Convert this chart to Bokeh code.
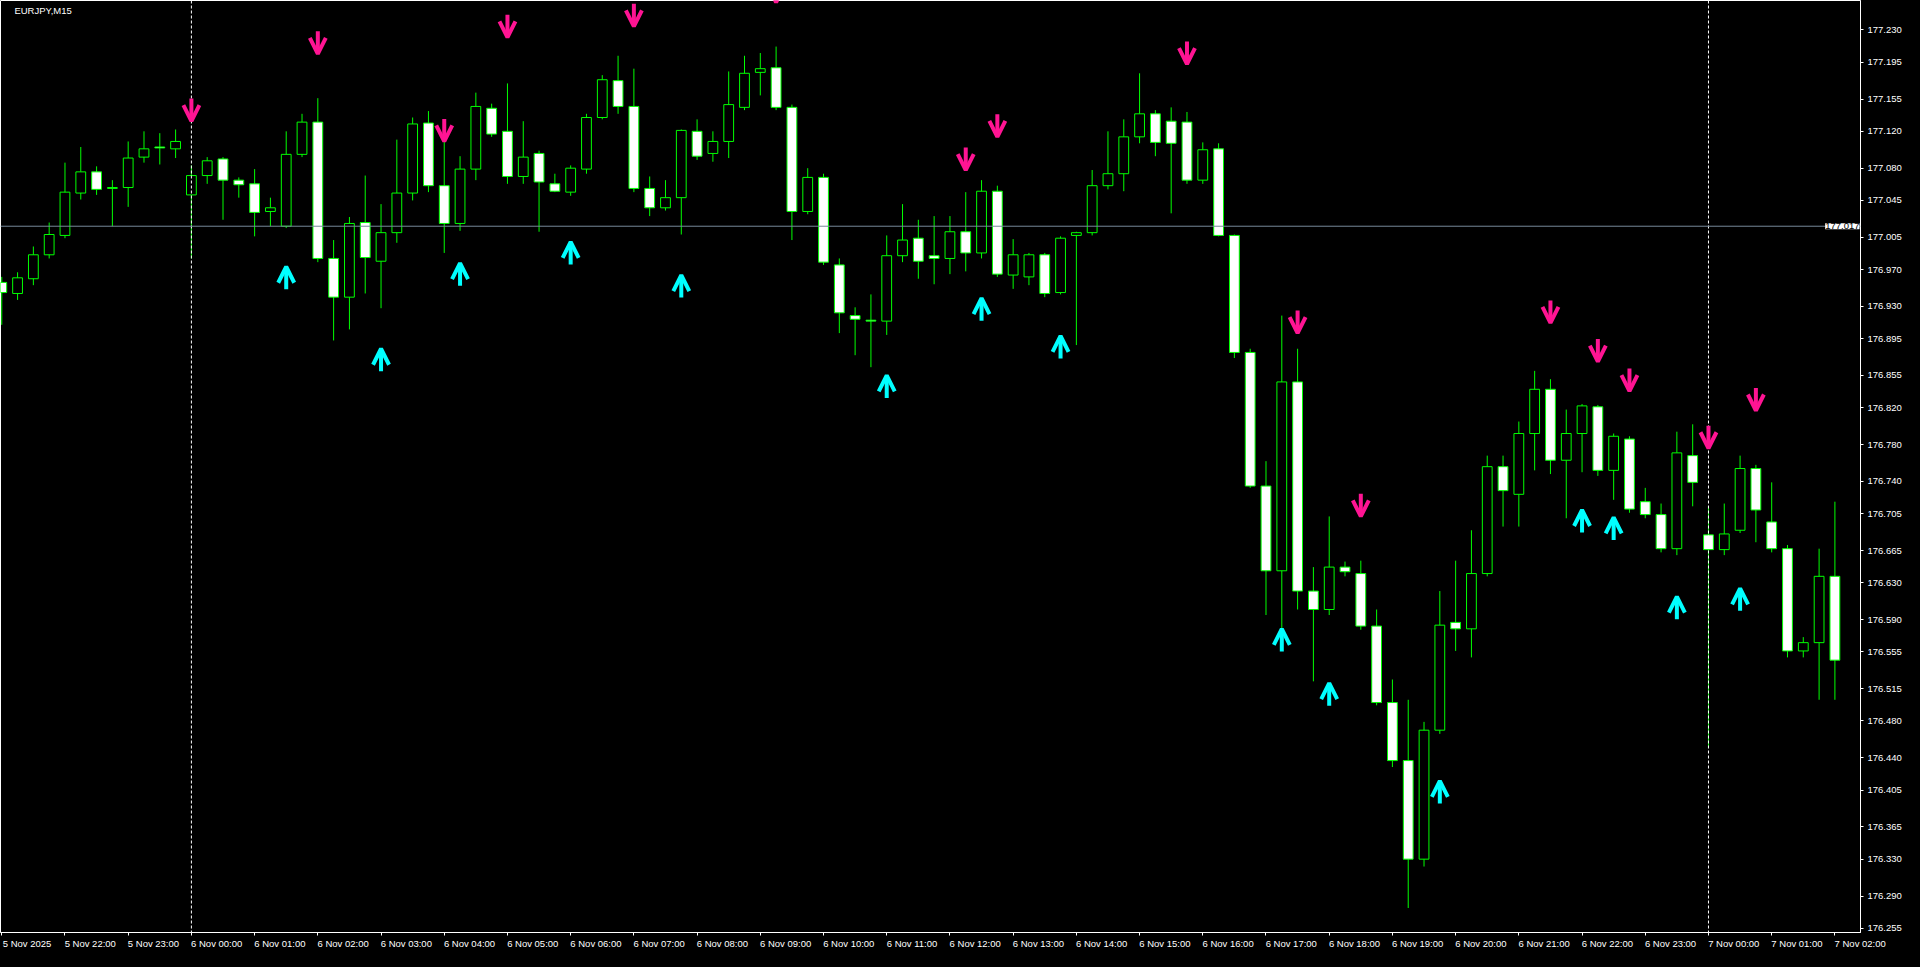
import numpy as np
from bokeh.plotting import figure
from bokeh.models import (ColumnDataSource, Range1d, FixedTicker, Span, Label, LinearAxis,
                          Arrow, OpenHead, PrintfTickFormatter, GlobalInlineStyleSheet)
from bokeh.embed import file_html
from bokeh.resources import INLINE

# ---------------- data (EURJPY M15, 5 Nov 21:00 -> 7 Nov 02:00) ----------------
open_ = [176.956, 176.944, 176.960, 176.986, 177.007, 177.053, 177.076, 177.058, 177.059, 177.092,
         177.103, 177.101, 177.051, 177.072, 177.090, 177.067, 177.063, 177.033, 177.017, 177.095,
         177.130, 176.982, 176.940, 177.021, 176.979, 177.010, 177.053, 177.129, 177.061, 177.020,
         177.079, 177.145, 177.120, 177.071, 177.096, 177.063, 177.054, 177.079, 177.135, 177.175,
         177.147, 177.058, 177.037, 177.048, 177.120, 177.096, 177.109, 177.146, 177.184, 177.189,
         177.146, 177.033, 177.070, 176.975, 176.920, 176.915, 176.914, 176.985, 177.004, 176.985,
         176.982, 177.011, 176.988, 177.055, 176.964, 176.962, 176.986, 176.945, 177.007, 177.010,
         177.061, 177.074, 177.114, 177.139, 177.131, 177.130, 177.067, 177.101, 177.007, 176.880,
         176.735, 176.643, 176.848, 176.621, 176.601, 176.647, 176.640, 176.583, 176.500, 176.437,
         176.330, 176.470, 176.587, 176.580, 176.640, 176.756, 176.726, 176.792, 176.840, 176.763,
         176.792, 176.821, 176.752, 176.786, 176.718, 176.704, 176.667, 176.768, 176.682, 176.666,
         176.687, 176.754, 176.696, 176.667, 176.556, 176.565, 176.637]
high = [176.962, 176.967, 176.995, 177.021, 177.086, 177.103, 177.082, 177.067, 177.109, 177.120,
        177.118, 177.122, 177.083, 177.092, 177.092, 177.070, 177.079, 177.048, 177.120, 177.139,
        177.156, 177.002, 177.027, 177.072, 177.041, 177.111, 177.135, 177.142, 177.109, 177.093,
        177.162, 177.150, 177.172, 177.131, 177.099, 177.074, 177.083, 177.139, 177.181, 177.202,
        177.188, 177.071, 177.067, 177.122, 177.133, 177.120, 177.185, 177.202, 177.205, 177.212,
        177.149, 177.080, 177.074, 176.982, 176.929, 176.943, 177.007, 177.041, 177.024, 177.028,
        177.028, 177.054, 177.067, 177.061, 177.003, 176.988, 176.988, 177.006, 177.011, 177.078,
        177.120, 177.133, 177.183, 177.143, 177.146, 177.141, 177.108, 177.107, 177.008, 176.884,
        176.762, 176.920, 176.884, 176.647, 176.702, 176.653, 176.654, 176.601, 176.525, 176.503,
        176.479, 176.621, 176.654, 176.687, 176.768, 176.768, 176.805, 176.860, 176.851, 176.818,
        176.824, 176.823, 176.792, 176.789, 176.733, 176.716, 176.794, 176.802, 176.713, 176.716,
        176.768, 176.758, 176.739, 176.671, 176.571, 176.667, 176.718]
low = [176.910, 176.937, 176.953, 176.982, 177.004, 177.046, 177.051, 177.017, 177.038, 177.086,
       177.084, 177.091, 176.982, 177.063, 177.024, 177.048, 177.006, 177.017, 177.015, 177.092,
       176.978, 176.893, 176.905, 176.944, 176.928, 176.999, 177.045, 177.054, 176.988, 177.012,
       177.067, 177.114, 177.063, 177.063, 177.011, 177.054, 177.050, 177.074, 177.133, 177.139,
       177.054, 177.028, 177.034, 177.008, 177.089, 177.087, 177.091, 177.143, 177.159, 177.143,
       177.002, 177.030, 176.975, 176.901, 176.877, 176.864, 176.899, 176.978, 176.960, 176.954,
       176.965, 176.968, 176.982, 176.962, 176.949, 176.953, 176.940, 176.943, 176.888, 177.007,
       177.057, 177.055, 177.107, 177.093, 177.031, 177.063, 177.063, 177.006, 176.874, 176.733,
       176.595, 176.569, 176.601, 176.523, 176.595, 176.637, 176.579, 176.497, 176.430, 176.277,
       176.322, 176.466, 176.556, 176.549, 176.637, 176.691, 176.691, 176.752, 176.748, 176.700,
       176.750, 176.746, 176.720, 176.706, 176.700, 176.663, 176.660, 176.713, 176.451, 176.660,
       176.684, 176.674, 176.663, 176.549, 176.549, 176.503, 176.503]
close = [176.945, 176.961, 176.986, 177.008, 177.054, 177.076, 177.057, 177.059, 177.091, 177.101,
         177.102, 177.109, 177.072, 177.088, 177.067, 177.062, 177.032, 177.037, 177.095, 177.130,
         176.982, 176.940, 177.020, 176.983, 177.010, 177.053, 177.128, 177.061, 177.020, 177.079,
         177.147, 177.117, 177.071, 177.092, 177.065, 177.055, 177.080, 177.135, 177.176, 177.147,
         177.058, 177.037, 177.048, 177.121, 177.093, 177.109, 177.149, 177.183, 177.188, 177.146,
         177.033, 177.070, 176.978, 176.923, 176.916, 176.914, 176.985, 177.002, 176.979, 176.982,
         177.011, 176.988, 177.055, 176.965, 176.986, 176.986, 176.944, 177.004, 177.010, 177.061,
         177.074, 177.114, 177.139, 177.108, 177.107, 177.067, 177.100, 177.007, 176.880, 176.735,
         176.643, 176.848, 176.621, 176.601, 176.647, 176.642, 176.583, 176.500, 176.437, 176.330,
         176.470, 176.584, 176.580, 176.640, 176.756, 176.730, 176.792, 176.840, 176.763, 176.792,
         176.822, 176.752, 176.789, 176.710, 176.704, 176.667, 176.771, 176.739, 176.666, 176.683,
         176.754, 176.709, 176.667, 176.556, 176.565, 176.637, 176.546]

time_labels = ["5 Nov 2025", "5 Nov 22:00", "5 Nov 23:00",
               "6 Nov 00:00", "6 Nov 01:00", "6 Nov 02:00", "6 Nov 03:00", "6 Nov 04:00",
               "6 Nov 05:00", "6 Nov 06:00", "6 Nov 07:00", "6 Nov 08:00", "6 Nov 09:00",
               "6 Nov 10:00", "6 Nov 11:00", "6 Nov 12:00", "6 Nov 13:00", "6 Nov 14:00",
               "6 Nov 15:00", "6 Nov 16:00", "6 Nov 17:00", "6 Nov 18:00", "6 Nov 19:00",
               "6 Nov 20:00", "6 Nov 21:00", "6 Nov 22:00", "6 Nov 23:00",
               "7 Nov 00:00", "7 Nov 01:00", "7 Nov 02:00"]
time_label_bars = list(range(0, 117, 4))
day_separator_bars = [12, 108]

price_ticks = [177.230, 177.195, 177.155, 177.120, 177.080, 177.045, 177.005, 176.970, 176.930,
               176.895, 176.855, 176.820, 176.780, 176.740, 176.705, 176.665, 176.630, 176.590,
               176.555, 176.515, 176.480, 176.440, 176.405, 176.365, 176.330, 176.290, 176.255]
last_price = 177.017

# signal arrows: bar index and arrow-tip price
sell_bars = [12, 20, 28, 32, 40, 49, 61, 63, 75, 82, 86, 98, 101, 103, 108, 111]
sell_tip = [177.131, 177.204, 177.109, 177.222, 177.234, 177.260, 177.078, 177.114, 177.193,
            176.901, 176.702, 176.912, 176.870, 176.838, 176.776, 176.817]
buy_bars = [18, 24, 29, 36, 43, 56, 62, 67, 81, 84, 91, 100, 102, 106, 110]
buy_tip = [176.973, 176.884, 176.977, 177.000, 176.964, 176.855, 176.939, 176.898, 176.580,
           176.521, 176.415, 176.709, 176.701, 176.615, 176.624]

symbol_title = "EURJPY,M15"

# ---------------- styling ----------------
GREEN = "#00FF00"
PINK = "#FF1493"
CYAN = "#00FFFF"
FONT = "Liberation Sans"
FSIZE = "9.5px"

x0, x1 = -0.08, 117.62
y0, y1 = 176.2504, 177.262

p = figure(width=1904, height=951, output_backend="svg", toolbar_location=None,
           x_range=Range1d(x0, x1), y_range=Range1d(y0, y1),
           y_axis_location="right",
           background_fill_color="black", border_fill_color="black",
           min_border_left=0, min_border_top=0, min_border_right=0, min_border_bottom=0)
p.stylesheets = [GlobalInlineStyleSheet(css="body { background-color: #000000; }")]
p.grid.visible = False
p.outline_line_color = "white"
p.outline_line_width = 1

# y axis
yax = p.yaxis[0]
yax.ticker = FixedTicker(ticks=price_ticks)
yax.formatter = PrintfTickFormatter(format="%.3f")
yax.axis_line_color = "white"
yax.major_tick_line_color = "white"
yax.major_tick_in = 0
yax.major_tick_out = 3
yax.minor_tick_line_color = None
yax.major_label_text_color = "white"
yax.major_label_text_font = FONT
yax.major_label_text_font_size = FSIZE
yax.major_label_standoff = 4

# x axis: hour tick marks (no labels)
xax = p.xaxis[0]
xax.ticker = FixedTicker(ticks=time_label_bars)
xax.major_label_overrides = {t: "" for t in time_label_bars}
xax.major_label_text_font_size = "1px"
xax.axis_line_color = "white"
xax.major_tick_line_color = "white"
xax.major_tick_in = 0
xax.major_tick_out = 3
xax.minor_tick_line_color = None
xax.major_label_standoff = 0

# x axis: time labels, starting at their tick like MT4 does
half_label = 1.6
label_pos = [b + half_label for b in time_label_bars]
xlab = LinearAxis(ticker=FixedTicker(ticks=label_pos),
                  major_label_overrides=dict(zip(label_pos, time_labels)),
                  axis_line_color=None, major_tick_line_color=None,
                  minor_tick_line_color=None, major_tick_in=0, major_tick_out=0,
                  major_label_standoff=2, major_label_text_color="white",
                  major_label_text_font=FONT, major_label_text_font_size=FSIZE)
p.add_layout(xlab, "below")

# candles
idx = np.arange(len(open_))
o = np.array(open_)
c = np.array(close)
src = ColumnDataSource(dict(
    x=idx, h=high, l=low,
    top=np.maximum(o, c), bottom=np.minimum(o, c),
    fill=np.where(c >= o, "black", "white"),
))
p.segment(x0="x", y0="h", x1="x", y1="l", source=src, line_color=GREEN, line_width=1)
p.vbar(x="x", top="top", bottom="bottom", width=0.62, source=src,
       fill_color="fill", line_color=GREEN, line_width=1)

# day separators
for b in day_separator_bars:
    p.add_layout(Span(location=b, dimension="height", line_color="white",
                      line_width=1, line_dash="3 2"))

# current price line + label
p.add_layout(Span(location=last_price, dimension="width", line_color="#778899", line_width=1))
p.add_layout(Label(x=x1, y=last_price, text=f"{last_price:.3f}", x_offset=-1,
                   text_baseline="middle", text_align="right", text_color="black",
                   background_fill_color="white", text_font=FONT, text_font_size=FSIZE))

# signal arrows
alen = 0.0245
sell_src = ColumnDataSource(dict(x=sell_bars, ys=[v + alen for v in sell_tip], ye=sell_tip))
buy_src = ColumnDataSource(dict(x=buy_bars, ys=[v - alen for v in buy_tip], ye=buy_tip))
p.add_layout(Arrow(end=OpenHead(size=16, line_width=4, line_color=PINK), source=sell_src,
                   x_start="x", y_start="ys", x_end="x", y_end="ye",
                   line_color=PINK, line_width=4))
p.add_layout(Arrow(end=OpenHead(size=16, line_width=4, line_color=CYAN), source=buy_src,
                   x_start="x", y_start="ys", x_end="x", y_end="ye",
                   line_color=CYAN, line_width=4))

# symbol title
p.add_layout(Label(x=0.8, y=177.2575, text=symbol_title, text_baseline="top",
                   text_color="white", text_font=FONT, text_font_size=FSIZE))

open("out.html", "w").write(file_html(p, INLINE))
